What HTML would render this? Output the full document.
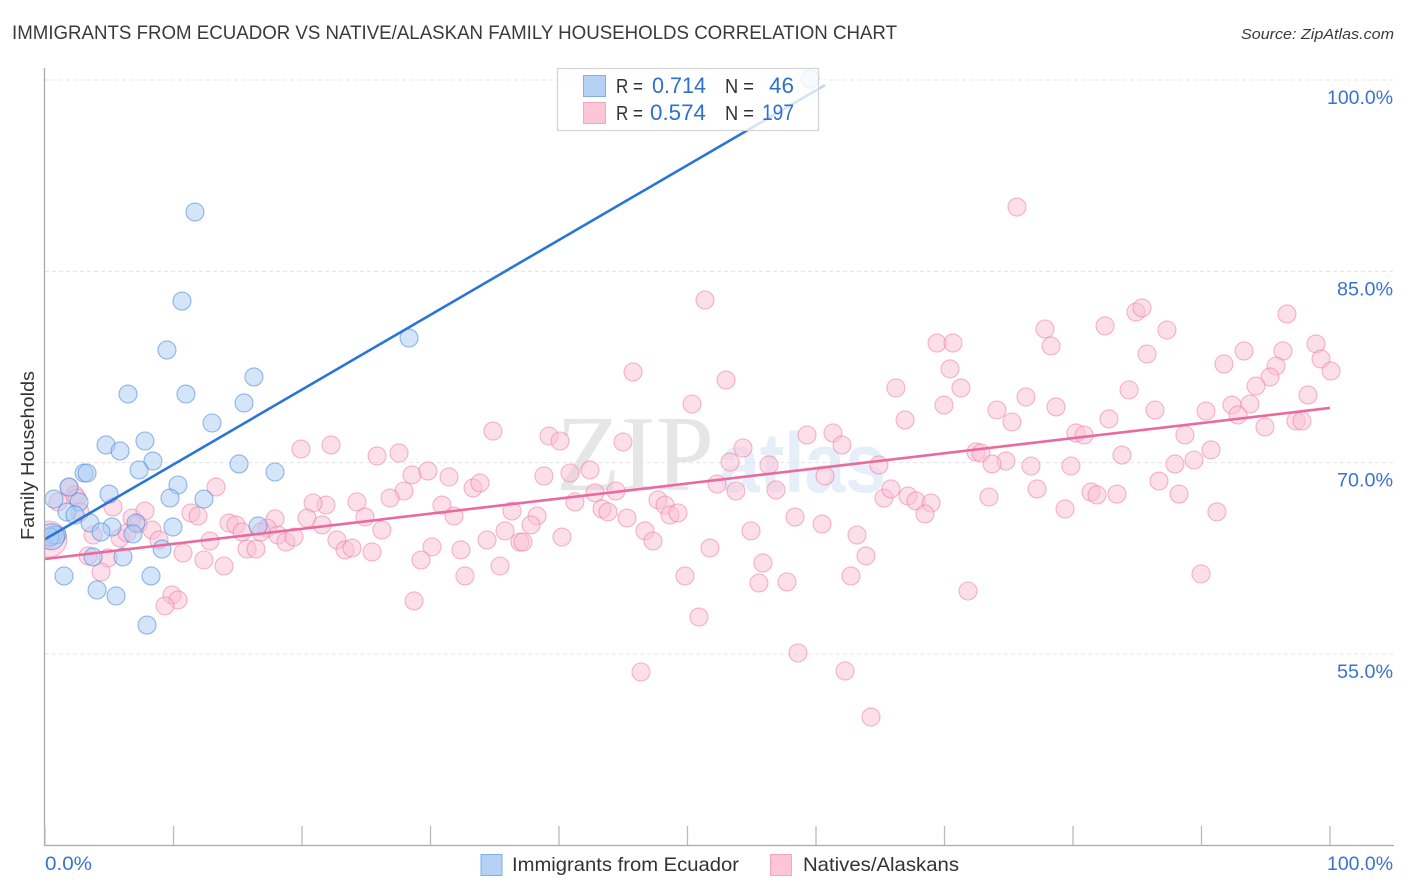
<!DOCTYPE html>
<html lang="en">
<head>
<meta charset="utf-8">
<title>Immigrants from Ecuador vs Native/Alaskan Family Households Correlation Chart</title>
<style>
html,body{margin:0;padding:0;background:#fff;width:1406px;height:892px;overflow:hidden}
svg{display:block;font-family:"Liberation Sans",sans-serif}
</style>
</head>
<body>
<svg id="chart" xmlns="http://www.w3.org/2000/svg" width="1406" height="892" viewBox="0 0 1406 892">
<defs><clipPath id="plot-clip"><rect x="45" y="60" width="1350" height="785"/></clipPath></defs>
<text x="12" y="39" font-size="19" fill="#3a3a3a" textLength="885" lengthAdjust="spacingAndGlyphs">IMMIGRANTS FROM ECUADOR VS NATIVE/ALASKAN FAMILY HOUSEHOLDS CORRELATION CHART</text>
<text x="1394" y="39" font-size="15" font-style="italic" fill="#3a3a3a" text-anchor="end" textLength="153" lengthAdjust="spacingAndGlyphs">Source: ZipAtlas.com</text>
<g>
<text x="556" y="490" font-family="'Liberation Serif',serif" font-size="108" fill="#e6e6e6" textLength="158" lengthAdjust="spacingAndGlyphs">ZIP</text>
<text x="719" y="492" font-size="84" font-weight="bold" fill="#e6eefa" textLength="167" lengthAdjust="spacingAndGlyphs">atlas</text>
</g>
<g id="grid"></g>
<g id="points" clip-path="url(#plot-clip)"></g>
<g id="lines"></g>
<g id="axes"></g>
<text x="0" y="0" transform="translate(34,540) rotate(-90)" font-size="18" fill="#333" textLength="169" lengthAdjust="spacingAndGlyphs">Family Households</text>
<g>
<rect x="557.5" y="68.5" width="261" height="62" fill="#fff" fill-opacity="0.8" stroke="#d4d4d4" stroke-width="1.2"/>
<rect x="583.5" y="75.5" width="22" height="21" fill="#b5d2f6" stroke="#82ade6"/>
<rect x="583.5" y="102.5" width="22" height="21" fill="#fcc6d8" stroke="#f4a6c0"/>
<text x="616" y="93" font-size="20" fill="#333" textLength="27" lengthAdjust="spacingAndGlyphs">R =</text>
<text x="652" y="93" font-size="22" fill="#2f6fcf" textLength="54" lengthAdjust="spacingAndGlyphs">0.714</text>
<text x="725" y="93" font-size="20" fill="#333" textLength="29" lengthAdjust="spacingAndGlyphs">N =</text>
<text x="769" y="93" font-size="22" fill="#2f6fcf" textLength="25" lengthAdjust="spacingAndGlyphs">46</text>
<text x="616" y="120" font-size="20" fill="#333" textLength="27" lengthAdjust="spacingAndGlyphs">R =</text>
<text x="650" y="120" font-size="22" fill="#2f6fcf" textLength="56" lengthAdjust="spacingAndGlyphs">0.574</text>
<text x="725" y="120" font-size="20" fill="#333" textLength="29" lengthAdjust="spacingAndGlyphs">N =</text>
<text x="762" y="120" font-size="22" fill="#2f6fcf" textLength="32" lengthAdjust="spacingAndGlyphs">197</text>
</g>
<g>
<rect x="481" y="854.5" width="21" height="21" fill="#b5d2f6" stroke="#82ade6"/>
<text x="512" y="871" font-size="19.5" fill="#333" textLength="227" lengthAdjust="spacingAndGlyphs">Immigrants from Ecuador</text>
<rect x="770.5" y="854.5" width="21" height="21" fill="#fcc6d8" stroke="#f4a6c0"/>
<text x="803" y="871" font-size="19.5" fill="#333" textLength="156" lengthAdjust="spacingAndGlyphs">Natives/Alaskans</text>
</g>
</svg>
<script>
const yTickValues = [100, 85, 70, 55];
const yTickLabels = ["100.0%", "85.0%", "70.0%", "55.0%"];
const xTickValues = [0, 10, 20, 30, 40, 50, 60, 70, 80, 90, 100];
const xEndLabels = ["0.0%", "100.0%"];

const blueX = [59.53,11.67,10.66,9.49,28.33,6.46,10.97,16.26,15.49,13.0,4.75,5.84,7.78,8.40,15.1,17.9,3.04,3.27,7.32,10.35,0.70,2.65,4.98,9.73,12.37,1.87,1.71,2.33,3.5,5.21,7.08,9.96,16.58,4.36,6.85,0.62,0.93,0.39,6.07,3.74,9.11,1.48,8.25,4.05,5.53,7.94];
const blueY = [100.08,89.65,82.67,78.83,79.77,75.38,75.38,76.72,74.68,73.11,71.39,70.92,71.7,70.13,69.9,69.27,69.19,69.19,69.43,68.25,67.15,66.92,67.54,67.23,67.15,68.09,66.13,65.9,65.27,64.96,65.27,64.96,65.04,64.57,64.41,64.33,64.33,64.17,62.61,62.61,63.23,61.12,61.12,60.02,59.55,57.27];
const blueBigX = [0.5];
const blueBigY = [64.2];

const pinkX = [75.64,51.36,96.65,77.82,78.29,82.49,84.90,85.37,87.31,85.76,69.42,70.66,98.91,96.34,99.3,100.08,91.75,93.31,95.8,95.33,94.24,70.43,45.76,53.0,66.22,71.28,84.36,98.29,76.34,50.35,69.96,78.68,86.38,74.08,90.35,92.37,93.77,92.84,66.93,75.25,82.8,94.94,97.35,97.82,34.86,39.22,40.08,44.98,59.3,61.32,62.02,54.32,80.23,80.86,88.71,19.92,22.26,27.55,25.84,72.45,72.84,90.74,83.81,53.31,56.34,64.9,74.78,73.7,79.84,76.73,89.42,87.94,28.56,29.8,42.41,40.86,38.83,31.44,33.31,33.85,52.3,56.89,53.77,60.7,13.31,27.94,26.85,77.2,73.46,81.4,81.87,83.42,86.69,88.25,42.8,44.43,41.24,47.7,48.25,65.29,67.16,65.83,67.78,68.95,68.48,79.38,91.2,30.89,31.83,24.28,24.9,21.87,20.86,36.34,38.29,43.35,43.81,45.29,48.64,49.26,58.37,60.47,1.87,2.33,2.49,1.01,2.72,5.29,6.77,7.24,7.78,8.33,5.84,6.38,8.87,3.74,3.35,4.9,4.36,10.74,12.37,13.93,11.36,11.91,12.84,14.32,14.86,15.33,15.72,16.42,17.9,17.28,16.81,18.13,18.75,19.38,20.39,9.88,10.35,9.34,21.56,22.72,23.35,23.89,25.45,26.22,30.12,29.26,32.37,32.68,34.4,35.8,37.82,35.41,36.96,37.2,40.23,46.69,47.31,49.8,51.75,54.94,55.87,55.56,57.74,50.89,46.38,58.6,62.26,64.28,62.72,63.89,63.19,71.83,89.96,28.72,0.23];
const pinkY = [90.04,82.75,81.66,80.48,79.15,80.72,81.81,82.13,80.4,78.52,79.38,79.38,79.31,78.76,78.13,77.19,77.74,78.76,77.58,76.72,76.01,77.35,77.11,76.48,75.86,75.86,75.7,75.31,75.15,74.6,74.52,74.37,74.13,74.13,74.05,74.52,74.6,73.74,73.35,73.19,73.43,72.8,73.27,73.27,72.48,72.09,71.7,71.62,72.17,72.33,71.39,71.15,72.33,72.17,72.17,71.07,71.39,70.76,70.53,70.84,70.76,71.0,70.6,70.05,69.82,69.82,70.13,69.9,69.74,69.74,70.21,69.9,69.04,69.35,69.43,69.19,68.96,68.88,68.02,68.41,68.33,67.86,67.78,68.96,68.09,67.78,67.23,67.94,67.31,67.7,67.47,67.54,68.56,67.54,67.63,67.78,66.92,67.08,66.68,67.23,67.39,67.94,67.0,66.84,65.98,66.37,66.14,66.68,65.82,66.92,65.74,66.68,66.84,66.21,65.82,66.37,66.14,65.66,65.9,66.06,65.74,65.19,68.09,67.47,67.23,66.92,66.14,66.53,65.66,65.19,66.21,64.72,64.1,64.49,63.94,64.33,62.69,62.53,61.43,62.92,62.37,61.9,66.06,65.82,63.86,65.27,65.12,64.57,63.23,63.23,65.59,64.88,64.57,64.33,63.78,64.17,65.66,59.63,59.24,58.77,65.12,63.94,63.16,63.31,63.0,64.72,63.4,62.37,63.16,61.12,63.94,64.65,65.12,61.9,63.78,63.78,64.17,64.65,63.86,61.12,63.31,64.65,62.14,60.57,60.65,57.9,53.59,55.08,53.67,50.06,61.12,62.69,64.33,59.94,61.28,59.16,63.94];
const pinkBigX = [0.3];
const pinkBigY = [64.0];

const blueLineX = [0, 60.7];
const blueLineY = [64.0, 99.6];
const pinkLineX = [0, 100];
const pinkLineY = [62.45, 74.29];

const SVGNS = "http://www.w3.org/2000/svg";
const xScale = v => 45 + v * 12.85;
const yScale = v => 80 + (100 - v) * 12.756;

function make(tag, attrs, parent) {
  const el = document.createElementNS(SVGNS, tag);
  for (const k in attrs) el.setAttribute(k, attrs[k]);
  parent.appendChild(el);
  return el;
}

const gridG = document.getElementById("grid");
const axesG = document.getElementById("axes");
const pointsG = document.getElementById("points");
const linesG = document.getElementById("lines");

yTickValues.forEach((v, i) => {
  const line = make("line", {x1: 45, x2: 1394, y1: yScale(v), y2: yScale(v), stroke: "#e4e4e4", "stroke-width": 1, "stroke-dasharray": "4 3"}, gridG);
  
  
  const label = make("text", {x: 1393, y: yScale(v) + 24, "font-size": 19, fill: "#3b72d0", "text-anchor": "end", textLength: yTickLabels[i].length > 5 ? 66 : 56, lengthAdjust: "spacingAndGlyphs"}, axesG);
  
  
  label.textContent = yTickLabels[i];
});

const yAxis = make("line", {x1: 44.5, x2: 44.5, y1: 68, y2: 846, stroke: "#aaa", "stroke-width": 1.3}, axesG);


const xAxis = make("line", {x1: 44, x2: 1394, y1: 845.5, y2: 845.5, stroke: "#aaa", "stroke-width": 1.3}, axesG);


xTickValues.forEach(v => {
  const t = make("line", {x1: xScale(v), x2: xScale(v), y1: 826, y2: 845, stroke: "#bbb", "stroke-width": 1.3}, axesG);
  
  
});
const xLeft = make("text", {x: 45, y: 870, "font-size": 19, fill: "#3b72d0", textLength: 47, lengthAdjust: "spacingAndGlyphs"}, axesG);


xLeft.textContent = xEndLabels[0];
const xRight = make("text", {x: 1393, y: 870, "font-size": 19, fill: "#3b72d0", "text-anchor": "end", textLength: 66, lengthAdjust: "spacingAndGlyphs"}, axesG);


xRight.textContent = xEndLabels[1];

function drawPoints(xs, ys, r, fill, stroke, name) {
  xs.forEach((x, i) => {
    const c = make("circle", {cx: xScale(x), cy: yScale(ys[i]), r: r, fill: fill, "fill-opacity": 0.5, stroke: stroke, "stroke-opacity": 0.55, "stroke-width": 1.1}, pointsG);
    
    
  });
}
drawPoints(pinkX, pinkY, 9, "#fbbfd3", "#ec7aa2", "point-natives");
drawPoints(pinkBigX, pinkBigY, 18, "#fbbfd3", "#ec7aa2", "point-natives-large");
drawPoints(blueX, blueY, 9, "#a9cbf5", "#3f82da", "point-ecuador");
drawPoints(blueBigX, blueBigY, 13, "#a9cbf5", "#3f82da", "point-ecuador-large");

const pinkTrend = make("line", {x1: xScale(pinkLineX[0]), y1: yScale(pinkLineY[0]), x2: xScale(pinkLineX[1]), y2: yScale(pinkLineY[1]), stroke: "#ea6a9c", "stroke-width": 2.6}, linesG);


const blueTrend = make("line", {x1: xScale(blueLineX[0]), y1: yScale(blueLineY[0]), x2: xScale(blueLineX[1]), y2: yScale(blueLineY[1]), stroke: "#2a75d9", "stroke-width": 2.6}, linesG);


const fade = make("rect", {x: 818, y: 80, width: 10, height: 12, fill: "#fff", "fill-opacity": 0.7}, linesG);


</script>
</body>
</html>
